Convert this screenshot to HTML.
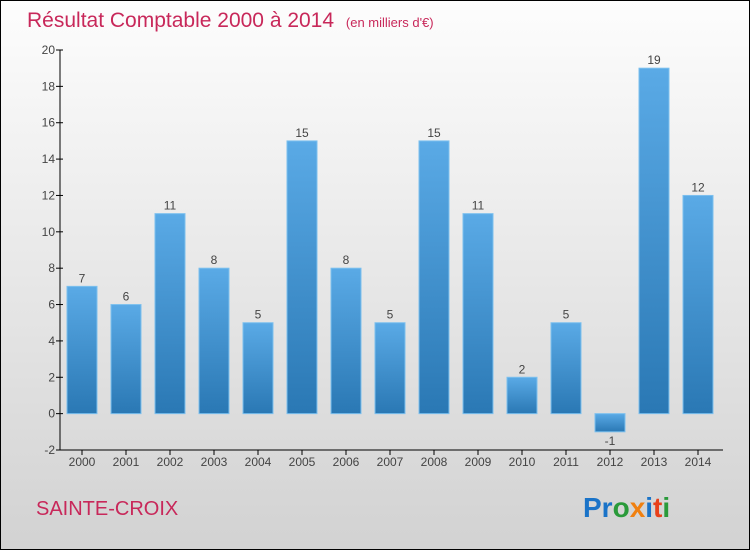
<!DOCTYPE html>
<html><head><meta charset="utf-8"><style>
html,body{margin:0;padding:0}
body{width:750px;height:550px;overflow:hidden;font-family:"Liberation Sans",sans-serif}
#wrap{position:absolute;left:0;top:0;width:748px;height:548px;border:1px solid #000;background:linear-gradient(#fdfdfd,#d2d2d2)}
</style></head><body>
<div id="wrap">
<svg id="chart" width="748" height="548" style="position:absolute;left:0;top:0">
<defs><linearGradient id="bg" x1="0" y1="0" x2="0" y2="1"><stop offset="0" stop-color="#5aaae6"/><stop offset="1" stop-color="#2a78b4"/></linearGradient></defs>
<text x="26" y="26" font-size="21" fill="#c8285a">Résultat Comptable 2000 à 2014 <tspan font-size="13" dx="6">(en milliers d'€)</tspan></text>
<g id="axes"></g><g id="bars"></g>
<text x="35" y="514" font-size="20" fill="#c8285a">SAINTE-CROIX</text>
<text x="582" y="516" font-size="28" font-weight="bold"><tspan fill="#1a73c8">Pr</tspan><tspan fill="#2a9a3a">o</tspan><tspan fill="#f08010">x</tspan><tspan fill="#1a73c8">i</tspan><tspan fill="#e8401a">t</tspan><tspan fill="#2a9a3a">i</tspan></text>
</svg></div>
<script>
const years=["2000","2001","2002","2003","2004","2005","2006","2007","2008","2009","2010","2011","2012","2013","2014"];
const values=[7,6,11,8,5,15,8,5,15,11,2,5,-1,19,12];
const yTicks=[-2,0,2,4,6,8,10,12,14,16,18,20];
const NS="http://www.w3.org/2000/svg";
const yMin=-2,yMax=20,yTop=49,yBot=449,x0=59;
function y(v){return yBot-(v-yMin)/(yMax-yMin)*(yBot-yTop);}
function xc(i){return 81+i*44;}
function mk(t,a,p){const e=document.createElementNS(NS,t);for(const k in a)e.setAttribute(k,a[k]);p.appendChild(e);return e;}
const ax=document.getElementById('axes'),bars=document.getElementById('bars');
let l=mk('line',{x1:x0,y1:yTop,x2:x0,y2:yBot,stroke:'#000'},ax);


l=mk('line',{x1:x0,y1:yBot,x2:722,y2:yBot,stroke:'#000'},ax);


yTicks.forEach(v=>{
 mk('line',{x1:x0-4,y1:y(v),x2:x0+3,y2:y(v),stroke:'#000'},ax);
 const t=mk('text',{x:x0-5,y:y(v)+4,'text-anchor':'end','font-size':12,fill:'#444'},ax);t.textContent=v;
 
 
});
years.forEach((yr,i)=>{
 mk('line',{x1:xc(i),y1:yBot,x2:xc(i),y2:yBot+5,stroke:'#000'},ax);
 const t=mk('text',{x:xc(i),y:yBot+16,'text-anchor':'middle','font-size':12,fill:'#444'},ax);t.textContent=yr;
 
 
 const v=values[i],top=Math.min(y(v),y(0)),h=Math.abs(y(v)-y(0));
 const r=mk('rect',{x:xc(i)-15,y:top,width:30,height:h,fill:'url(#bg)',stroke:'#7cc0ee','stroke-width':1},bars);
 
 
 const lb=mk('text',{x:xc(i),y:v>=0?y(v)-4:y(v)+13,'text-anchor':'middle','font-size':12,fill:'#444'},bars);lb.textContent=v;
 
 
});
</script>
</body></html>
